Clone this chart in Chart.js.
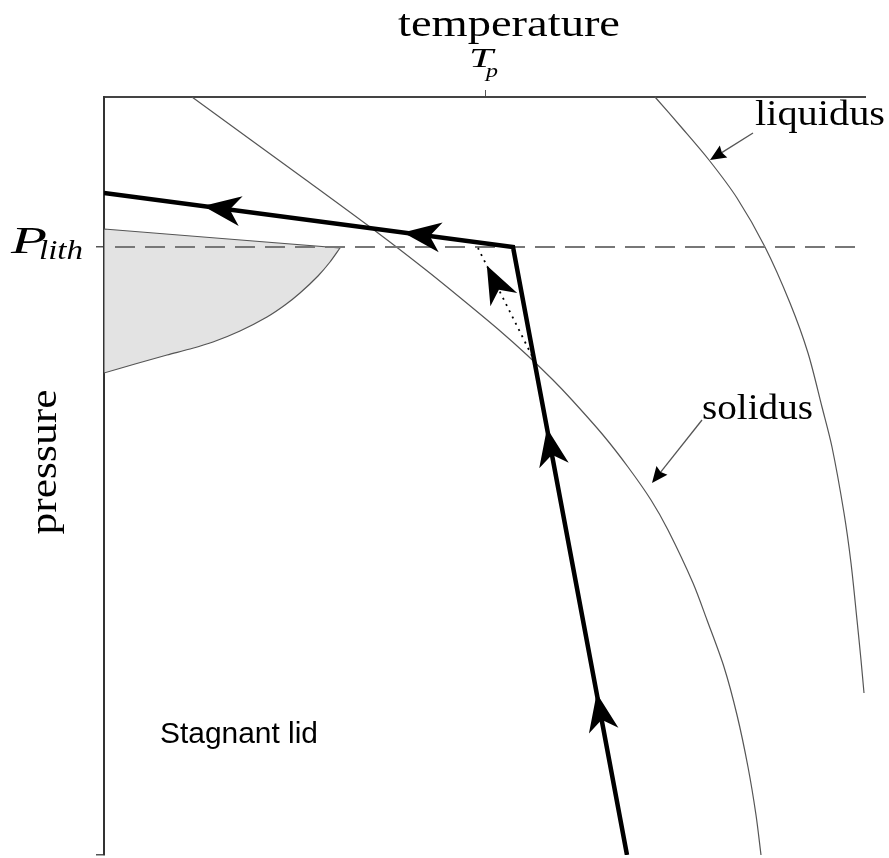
<!DOCTYPE html>
<html><head><meta charset="utf-8">
<script src="https://cdn.jsdelivr.net/npm/chart.js@4/dist/chart.umd.min.js"></script>
<style>html,body{margin:0;padding:0;background:#fff;}canvas{display:block;}</style>
</head><body>
<canvas id="c" width="889" height="858"></canvas>
<script>
// ---- axis ranges (arbitrary units, pressure grows downward) ----
const T_MIN = 0, T_MAX = 761;
const P_MIN = 0, P_MAX = 758;
const T_P = 381;        // potential temperature tick
const P_LITH = 150;     // base of the lithosphere

const xTickValues = [T_P];
const yTickValues = [P_LITH, P_MAX];

// ---- adiabatic path (flow order: upwelling, then along the lid) ----
const adiabatT = [523, 409, 0];
const adiabatP = [758, 150, 96];
const arrowSegment = [0, 0, 1, 1];
const arrowFraction = [0.266, 0.702, 0.269, 0.758];

// ---- dotted melt path ----
const meltT = [428, 374];
const meltP = [259, 151];
const meltArrowFraction = 0.837;

// ---- lithosphere pressure (dashed) ----
const lithT = [11, 761];
const lithP = [150, 150];

// ---- solidus ----
const solidusT = [88, 147, 202, 274, 322, 359, 395, 423, 449, 468, 499, 524, 547, 564, 589, 603, 620, 633, 644, 652, 657];
const solidusP = [0, 43, 83, 136, 173, 203, 233, 258, 283, 303, 338, 370, 403, 433, 486, 523, 570, 618, 670, 718, 758];

// ---- liquidus ----
const liquidusT = [551, 578, 605, 633, 661, 686, 704, 718, 728, 740, 747, 753, 757, 760];
const liquidusP = [0, 31, 63, 101, 150, 206, 256, 310, 350, 416, 466, 523, 563, 596];

// ---- shaded melt region (closed shape; corners repeated to stay sharp) ----
const regionT = [0, 0, 236, 236, 226, 214, 196, 181, 163, 136, 109, 86, 63, 31, 0, 0, 0];
const regionP = [132, 132, 151, 151, 165, 179, 196, 208, 220, 234, 245, 252, 258, 267, 276, 276, 132];

// ---- annotation arrows: [fromT, fromP, tipT, tipP] ----
const liquidusPointer = [649, 36, 606, 63];
const solidusPointer = [598, 323, 548, 386];

const zip = (a, b) => a.map((v, i) => ({x: v, y: b[i]}));

function stealth(ctx, tx, ty, ux, uy, L, W, d) {
  const nx = -uy, ny = ux;
  ctx.beginPath();
  ctx.moveTo(tx, ty);
  ctx.lineTo(tx - L * ux + W * nx, ty - L * uy + W * ny);
  ctx.lineTo(tx - (L - d) * ux, ty - (L - d) * uy);
  ctx.lineTo(tx - L * ux - W * nx, ty - L * uy - W * ny);
  ctx.closePath();
  ctx.fill();
}

function stretchText(ctx, str, x, y, font, width) {
  ctx.save();
  ctx.font = font;
  const w = ctx.measureText(str).width;
  ctx.translate(x, y);
  ctx.scale(width / w, 1);
  ctx.textAlign = 'left';
  ctx.textBaseline = 'alphabetic';
  ctx.fillStyle = '#000';
  ctx.fillText(str, 0, 0);
  ctx.restore();
}

const SERIF = '"Liberation Serif", "DejaVu Serif", serif';

const decor = {
  id: 'decor',
  afterDatasetsDraw(chart) {
    const ctx = chart.ctx, xs = chart.scales.x, ys = chart.scales.y;
    const P = (t, p) => [xs.getPixelForValue(t), ys.getPixelForValue(p)];
    ctx.save();
    ctx.fillStyle = '#000';
    arrowSegment.forEach((s, i) => {
      const a = P(adiabatT[s], adiabatP[s]), b = P(adiabatT[s + 1], adiabatP[s + 1]);
      const dx = b[0] - a[0], dy = b[1] - a[1], len = Math.hypot(dx, dy);
      const f = arrowFraction[i];
      stealth(ctx, a[0] + dx * f, a[1] + dy * f, dx / len, dy / len, 38, 15, 11);
    });
    {
      const a = P(meltT[0], meltP[0]), b = P(meltT[1], meltP[1]);
      const dx = b[0] - a[0], dy = b[1] - a[1], len = Math.hypot(dx, dy);
      stealth(ctx, a[0] + dx * meltArrowFraction, a[1] + dy * meltArrowFraction, dx / len, dy / len, 38, 15, 11);
    }
    [liquidusPointer, solidusPointer].forEach(q => {
      const a = P(q[0], q[1]), b = P(q[2], q[3]);
      const dx = b[0] - a[0], dy = b[1] - a[1], len = Math.hypot(dx, dy);
      const ux = dx / len, uy = dy / len;
      ctx.strokeStyle = '#555';
      ctx.lineWidth = 1.3;
      ctx.beginPath();
      ctx.moveTo(a[0], a[1]);
      ctx.lineTo(b[0] - ux * 12, b[1] - uy * 12);
      ctx.stroke();
      stealth(ctx, b[0], b[1], ux, uy, 16, 7, 2);
    });
    ctx.restore();
  },
  afterDraw(chart) {
    const ctx = chart.ctx, xs = chart.scales.x, ys = chart.scales.y;
    stretchText(ctx, 'temperature', 398, 36, '38px ' + SERIF, 222);
    const tx = xs.getPixelForValue(T_P);
    stretchText(ctx, 'T', tx - 16, 67, 'italic 27px ' + SERIF, 24);
    stretchText(ctx, 'p', tx + 1, 77, 'italic 19px ' + SERIF, 12);
    const py = ys.getPixelForValue(P_LITH);
    stretchText(ctx, 'P', 11, py + 6, 'italic 38px ' + SERIF, 36);
    stretchText(ctx, 'lith', 39, py + 12, 'italic 28px ' + SERIF, 44);
    ctx.save();
    ctx.translate(56, 462);
    ctx.rotate(-Math.PI / 2);
    ctx.font = '38px ' + SERIF;
    const w = ctx.measureText('pressure').width;
    ctx.scale(145 / w, 1);
    ctx.fillStyle = '#000';
    ctx.textAlign = 'center';
    ctx.textBaseline = 'alphabetic';
    ctx.fillText('pressure', 0, 0);
    ctx.restore();
    stretchText(ctx, 'liquidus', 755, 125, '36px ' + SERIF, 130);
    stretchText(ctx, 'solidus', 702, 419, '36px ' + SERIF, 111);
    stretchText(ctx, 'Stagnant lid', 160, 743, '30px "Liberation Sans", Arial, sans-serif', 158);
  }
};

new Chart(document.getElementById('c'), {
  type: 'scatter',
  data: {
    datasets: [
      {label: 'adiabat', data: zip(adiabatT, adiabatP), showLine: true, borderColor: '#000', borderWidth: 4.5,
       pointRadius: 0, borderJoinStyle: 'miter', order: 0},
      {label: 'melt path', data: zip(meltT, meltP), showLine: true, borderColor: '#000', borderWidth: 1.8,
       borderDash: [2, 5], pointRadius: 0, order: 1},
      {label: 'P_lith', data: zip(lithT, lithP), showLine: true, borderColor: '#777', borderWidth: 2,
       borderDash: [20, 10], pointRadius: 0, order: 2},
      {label: 'solidus', data: zip(solidusT, solidusP), showLine: true, borderColor: '#555', borderWidth: 1.2,
       pointRadius: 0, tension: 0.3, order: 3},
      {label: 'liquidus', data: zip(liquidusT, liquidusP), showLine: true, borderColor: '#555', borderWidth: 1.2,
       pointRadius: 0, tension: 0.3, order: 3, clip: 6},
      {label: 'melt region', data: zip(regionT, regionP), showLine: true, fill: 'shape', backgroundColor: '#e3e3e3',
       borderColor: '#555', borderWidth: 1.2, pointRadius: 0, tension: 0.3, order: 5}
    ]
  },
  options: {
    responsive: false,
    animation: false,
    devicePixelRatio: 1,
    layout: {padding: {left: 0, top: 0, right: 24, bottom: 3}},
    plugins: {legend: {display: false}, tooltip: {enabled: false}},
    scales: {
      x: {
        type: 'linear', position: 'top', min: T_MIN, max: T_MAX,
        afterBuildTicks: s => { s.ticks = xTickValues.map(v => ({value: v})); },
        afterFit: s => { s.height = 97; },
        ticks: {display: false},
        grid: {display: true, drawOnChartArea: false, drawTicks: true, tickLength: 7, color: '#555', lineWidth: 1},
        border: {display: true, color: '#444', width: 2}
      },
      y: {
        type: 'linear', reverse: true, min: P_MIN, max: P_MAX,
        afterBuildTicks: s => { s.ticks = yTickValues.map(v => ({value: v})); },
        afterFit: s => { s.width = 104; },
        ticks: {display: false},
        grid: {display: true, drawOnChartArea: false, drawTicks: true, tickLength: 8, color: '#555', lineWidth: 1.5},
        border: {display: true, color: '#333', width: 2}
      }
    }
  },
  plugins: [decor]
});
</script>
</body></html>
